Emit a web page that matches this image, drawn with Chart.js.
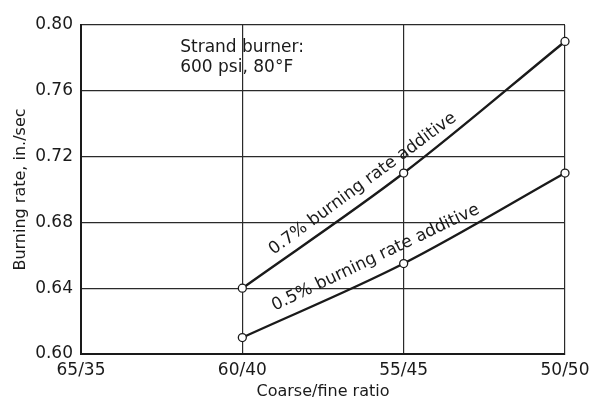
<!DOCTYPE html>
<html>
<head>
<meta charset="utf-8">
<script src="https://cdn.jsdelivr.net/npm/chart.js@4"></script>
<style>
  html, body { margin: 0; padding: 0; background: #fff; }
  #wrap { width: 590px; height: 403px; }
</style>
</head>
<body>
<div id="wrap"><canvas id="burnChart" width="590" height="403"></canvas></div>
<script>
const ratios = ["65/35", "60/40", "55/45", "50/50"];
const rate07 = [null, 0.64, 0.71, 0.79];
const rate05 = [null, 0.61, 0.655, 0.71];
const seriesNames = ["0.7% burning rate additive", "0.5% burning rate additive"];
const noteLines = ["Strand burner:", "600 psi, 80°F"];

const FONT = "'DejaVu Sans', sans-serif";
const INK = "#1a1a1a";

// label placement along the 60/40 -> 55/45 segment: fraction along it and offset above the line
const labelPlace = [{ t: 0.80, off: 15 }, { t: 0.87, off: 17 }];

const curveLabels = {
  id: "curveLabels",
  afterDatasetsDraw(chart) {
    const ctx = chart.ctx;
    ctx.save();
    ctx.font = "17px " + FONT;
    ctx.fillStyle = INK;
    ctx.textAlign = "center";
    ctx.textBaseline = "middle";
    chart.data.datasets.forEach((ds, i) => {
      const pts = chart.getDatasetMeta(i).data;
      const a = pts[1], b = pts[2];
      const dx = b.x - a.x, dy = b.y - a.y;
      const len = Math.hypot(dx, dy);
      const ux = dx / len, uy = dy / len;
      const p = labelPlace[i];
      const cx = a.x + ux * len * p.t + uy * p.off;
      const cy = a.y + uy * len * p.t - ux * p.off;
      ctx.save();
      ctx.translate(cx, cy);
      ctx.rotate(Math.atan2(dy, dx) - 0.015);
      ctx.fillText(ds.label, 0, 0);
      ctx.restore();
    });

    // note in the upper left cell
    const xs = chart.scales.x, ys = chart.scales.y;
    const nx = xs.getPixelForValue(0) + 0.615 * (xs.getPixelForValue(1) - xs.getPixelForValue(0));
    const ny = ys.getPixelForValue(0.80);
    ctx.textAlign = "left";
    ctx.fillText(noteLines[0], nx, ny + 23);
    ctx.fillText(noteLines[1], nx, ny + 43);
    ctx.restore();
  }
};

function makeSet(label, data) {
  return {
    label,
    data,
    borderColor: INK,
    borderWidth: 2.4,
    backgroundColor: "#fff",
    pointRadius: 4,
    pointBorderWidth: 1.3,
    pointBorderColor: INK,
    pointBackgroundColor: "#fff",
    cubicInterpolationMode: "monotone",
    clip: false,
    spanGaps: false
  };
}

new Chart(document.getElementById("burnChart"), {
  type: "line",
  data: {
    labels: ratios,
    datasets: [makeSet(seriesNames[0], rate07), makeSet(seriesNames[1], rate05)]
  },
  options: {
    responsive: false,
    animation: false,
    devicePixelRatio: 1,
    layout: { padding: { top: 25, right: 25, left: 0, bottom: 0 } },
    plugins: {
      legend: { display: false },
      tooltip: { enabled: false }
    },
    scales: {
      x: {
        type: "category",
        offset: false,
        grid: { color: "#2a2a2a", lineWidth: 1.2, drawTicks: false },
        border: { color: INK, width: 2 },
        ticks: { color: INK, font: { family: FONT, size: 17 }, padding: 6, maxRotation: 0, autoSkip: false },
        title: { display: true, text: "Coarse/fine ratio", color: INK, font: { family: FONT, size: 16 }, padding: { top: 0, bottom: 2 } },
        afterFit(s) { s.height = 49; s.paddingLeft = 0; s.paddingRight = 0; }
      },
      y: {
        min: 0.60,
        max: 0.80,
        grid: { color: "#2a2a2a", lineWidth: 1.2, drawTicks: false },
        border: { color: INK, width: 2 },
        ticks: {
          stepSize: 0.04,
          color: INK,
          font: { family: FONT, size: 17 },
          padding: 8,
          callback: v => v.toFixed(2)
        },
        title: { display: true, text: "Burning rate, in./sec", color: INK, font: { family: FONT, size: 16 }, padding: { top: 11, bottom: 0 } },
        afterFit(s) { s.width = 81; }
      }
    }
  },
  plugins: [curveLabels]
});
</script>
</body>
</html>
